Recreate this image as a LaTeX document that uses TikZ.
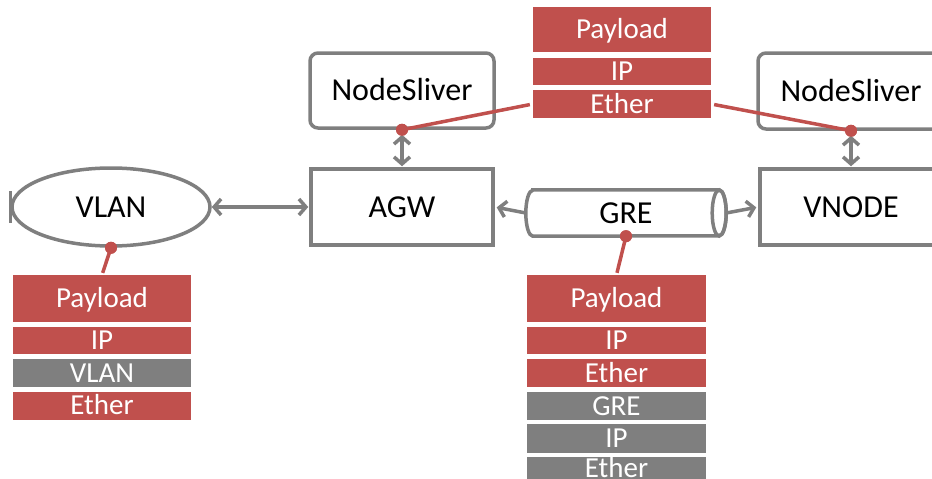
\documentclass[tikz,border=0pt]{standalone}
\usepackage{fontspec}
\setmainfont{Carlito}
\usetikzlibrary{arrows.meta,shapes.geometric}
\definecolor{gr}{HTML}{7F7F7F}
\definecolor{rd}{HTML}{C0504D}
\begin{document}
\begin{tikzpicture}[x=1pt,y=1pt,
  box/.style={draw=gr, line width=3.5pt, inner sep=0pt, text height=20.5pt, text depth=0pt, font=\fontsize{32}{34}\selectfont},
  rbox/.style={box, rounded corners=8pt},
  pkt/.style={fill=#1, inner sep=0pt, minimum width=178pt, text=white, text height=18.5pt, text depth=0pt, font=\fontsize{29}{31}\selectfont},
  link/.style={draw=gr, line width=3.5pt, {Straight Barb[length=7pt,width=16pt]}-{Straight Barb[length=7pt,width=16pt]}},
  onearrow/.style={draw=gr, line width=3.5pt, -{Straight Barb[length=7pt,width=16pt]}},
  redl/.style={draw=rd, line width=3.5pt},
  reddot/.style={circle, fill=rd, inner sep=0pt, minimum size=12pt},
  outline/.style={draw=gr, line width=3.5pt}]
\useasboundingbox (0,0) rectangle (932,-479);
\clip (0,0) rectangle (932,-479);

% main nodes
\node[rbox, minimum width=184pt, minimum height=75pt] (nsL) at (402,-90.5) {NodeSliver};
\node[box, minimum width=182pt, minimum height=76pt] (agw) at (402,-207) {AGW};
\node[rbox, minimum width=186pt, minimum height=76pt] (nsR) at (851,-91) {NodeSliver};
\node[box, minimum width=182pt, minimum height=76pt] (vn) at (851,-207) {VNODE};
\node[box, ellipse, minimum width=198pt, minimum height=78pt] (vlan) at (111,-207) {VLAN};
\draw[outline] ([yshift=16pt]vlan.west) -- ([yshift=-16pt]vlan.west);

% GRE tunnel
\node[inner sep=0pt, minimum width=200pt, minimum height=46pt, text height=20.5pt, text depth=0pt, font=\fontsize{32}{34}\selectfont] (gre) at (626,-213) {GRE};
\draw[outline] ([xshift=7pt]gre.north west) -- ([xshift=-7pt]gre.north east)
  arc[start angle=90, end angle=-90, x radius=7, y radius=23]
  -- ([xshift=7pt]gre.south west)
  arc[start angle=270, end angle=90, x radius=7, y radius=23] -- cycle;
\draw[outline] ([xshift=-7pt]gre.east) ellipse [x radius=7, y radius=23];

% connectors
\draw[link, shorten >=1pt] (vlan.east) -- (agw.west);
\draw[onearrow, shorten >=2pt] (gre.west) -- (agw.east);
\draw[onearrow, shorten >=2pt] (gre.east) -- (vn.west);
\node[reddot] (dL) at (nsL.south) {};
\node[reddot] (dR) at (nsR.south) {};
\draw[link, shorten <=5pt, shorten >=1pt] (dL.center) -- (agw.north);
\draw[link, shorten <=5pt, shorten >=1pt] (dR.center) -- (vn.north);

% top packet stack
\node[pkt=rd, minimum height=45pt] (tP) at (622,-29.5) {Payload};
\node[pkt=rd, minimum height=27pt] (tI) at (622,-71.5) {IP};
\node[pkt=rd, minimum height=28pt] (tE) at (622,-104) {Ether};

% left packet stack
\node[pkt=rd, minimum height=47pt] (lP) at (102,-298.5) {Payload};
\node[pkt=rd, minimum height=27pt] (lI) at (102,-340.5) {IP};
\node[pkt=gr, minimum height=28pt] (lV) at (102,-373) {VLAN};
\node[pkt=rd, minimum height=28pt] (lE) at (102,-405.5) {Ether};

% GRE packet stack
\node[pkt=rd, minimum width=179pt, minimum height=47pt] (gP) at (616.5,-298.5) {Payload};
\node[pkt=rd, minimum width=179pt, minimum height=27pt] (gI) at (616.5,-340.5) {IP};
\node[pkt=rd, minimum width=179pt, minimum height=28pt] (gE) at (616.5,-373) {Ether};
\node[pkt=gr, minimum width=179pt, minimum height=28pt] (gG) at (616.5,-406) {GRE};
\node[pkt=gr, minimum width=179pt, minimum height=29pt] (gI2) at (616.5,-438.5) {IP};
\node[pkt=gr, minimum width=179pt, minimum height=22pt] (gE2) at (616.5,-468) {Ether};

% red pointers
\node[reddot] (dV) at (vlan.south) {};
\node[reddot] (dG) at (gre.south) {};
\draw[redl, shorten >=3pt] (dL.center) -- (tE.west);
\draw[redl, shorten >=3pt] (dR.center) -- (tE.east);
\draw[redl, shorten >=2pt] (dV.center) -- (lP.north);
\draw[redl, shorten >=2pt] (dG.center) -- (gP.north);
\node[reddot] at (dL) {};
\node[reddot] at (dR) {};
\node[reddot] at (dV) {};
\node[reddot] at (dG) {};
\end{tikzpicture}
\end{document}
